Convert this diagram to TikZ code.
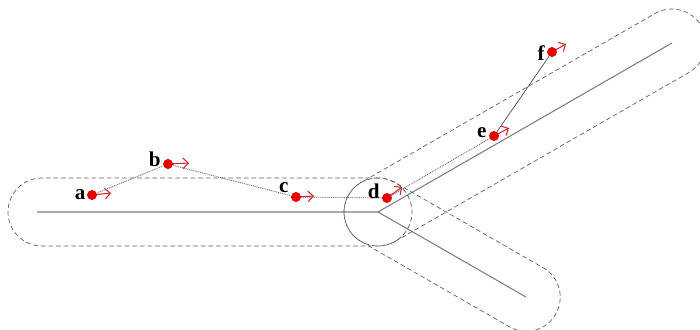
\documentclass[tikz,border=0pt]{standalone}
\usepackage{fontspec}
\setmainfont{Liberation Serif}
\usetikzlibrary{arrows.meta,calc}
\definecolor{dotred}{RGB}{228,0,0}
\definecolor{arrred}{RGB}{210,40,40}
\definecolor{roadgray}{RGB}{125,125,125}
\definecolor{capgray}{RGB}{95,95,95}
\begin{document}
\begin{tikzpicture}[x=0.03cm,y=0.03cm,
  road/.style={draw=roadgray,line width=0.9pt},
  capsule/.style={draw=capgray,line width=0.6pt,dash pattern=on 4pt off 2.5pt},
  dotnode/.style={circle,fill=dotred,inner sep=0pt,minimum size=0.29cm},
  lbl/.style={font=\fontsize{18}{21}\selectfont\bfseries,inner sep=1pt,anchor=east},
  heading/.style={draw=arrred,line width=0.9pt,-{Straight Barb[length=4.5pt,width=9pt]}},
  track/.style={draw=black!55,line width=0.8pt,dash pattern=on 0.8pt off 0.8pt},
  link/.style={draw=black!70,line width=0.6pt}]
\useasboundingbox (0,0) rectangle (700,329);
% roads
\coordinate (J) at (378,117);
\coordinate (L) at (37,117);
\coordinate (U) at (672,286);
\coordinate (D) at (526,32);
\draw[road] (L) -- (J) -- (U);
\draw[road] (J) -- (D);
% capsules
\begin{scope}[shift={(J)},rotate=180]
  \draw[capsule] (0,-34) -- (336,-34) arc (-90:90:34) -- (0,34) arc (90:270:34) -- cycle;
\end{scope}
\begin{scope}[shift={(J)},rotate=29.9]
  \draw[capsule] (0,-34) -- (339,-34) arc (-90:90:34) -- (0,34) arc (90:270:34) -- cycle;
\end{scope}
\begin{scope}[shift={(J)},rotate=-29.9]
  \draw[capsule] (0,-34) -- (171,-34) arc (-90:90:34) -- (0,34) arc (90:270:34) -- cycle;
\end{scope}
% points
\node[dotnode] (pa) at (92,134) {};
\node[dotnode] (pb) at (168,165) {};
\node[dotnode] (pc) at (296,132) {};
\node[dotnode] (pd) at (387,131) {};
\node[dotnode] (pe) at (494,193) {};
\node[dotnode] (pf) at (552,277) {};
% track connectors
\draw[track] (pa) -- (pb);
\draw[track] (pb) -- (pc);
\draw[track] (pc) -- (pd);
\draw[track] (pd) -- (pe);
\draw[link] (pe) -- (pf);
% headings
\coordinate (ha) at (111,136);
\coordinate (hb) at (189,166);
\coordinate (hc) at (314,133);
\coordinate (hd) at (402,142);
\coordinate (he) at (509,201);
\coordinate (hf) at (566,285);
\draw[heading] (pa.center) -- (ha);
\draw[heading] (pb.center) -- (hb);
\draw[heading] (pc.center) -- (hc);
\draw[heading] (pd.center) -- (hd);
\draw[heading] (pe.center) -- (he);
\draw[heading] (pf.center) -- (hf);
\node[dotnode] at (pa) {};
\node[dotnode] at (pb) {};
\node[dotnode] at (pc) {};
\node[dotnode] at (pd) {};
\node[dotnode] at (pe) {};
\node[dotnode] at (pf) {};
% labels
\node[lbl] (la) at ($(pa.west)+(0,0)$) {a};
\node[lbl] (lb) at ($(pb.west)+(-1,5)$) {b};
\node[lbl] (lc) at ($(pc.west)+(-1,9)$) {c};
\node[lbl] (ld) at ($(pd.west)+(-1,7)$) {d};
\node[lbl] (le) at ($(pe.west)+(-1,3)$) {e};
\node[lbl] (lf) at ($(pf.west)+(-1,-1)$) {f};
\end{tikzpicture}
\end{document}
